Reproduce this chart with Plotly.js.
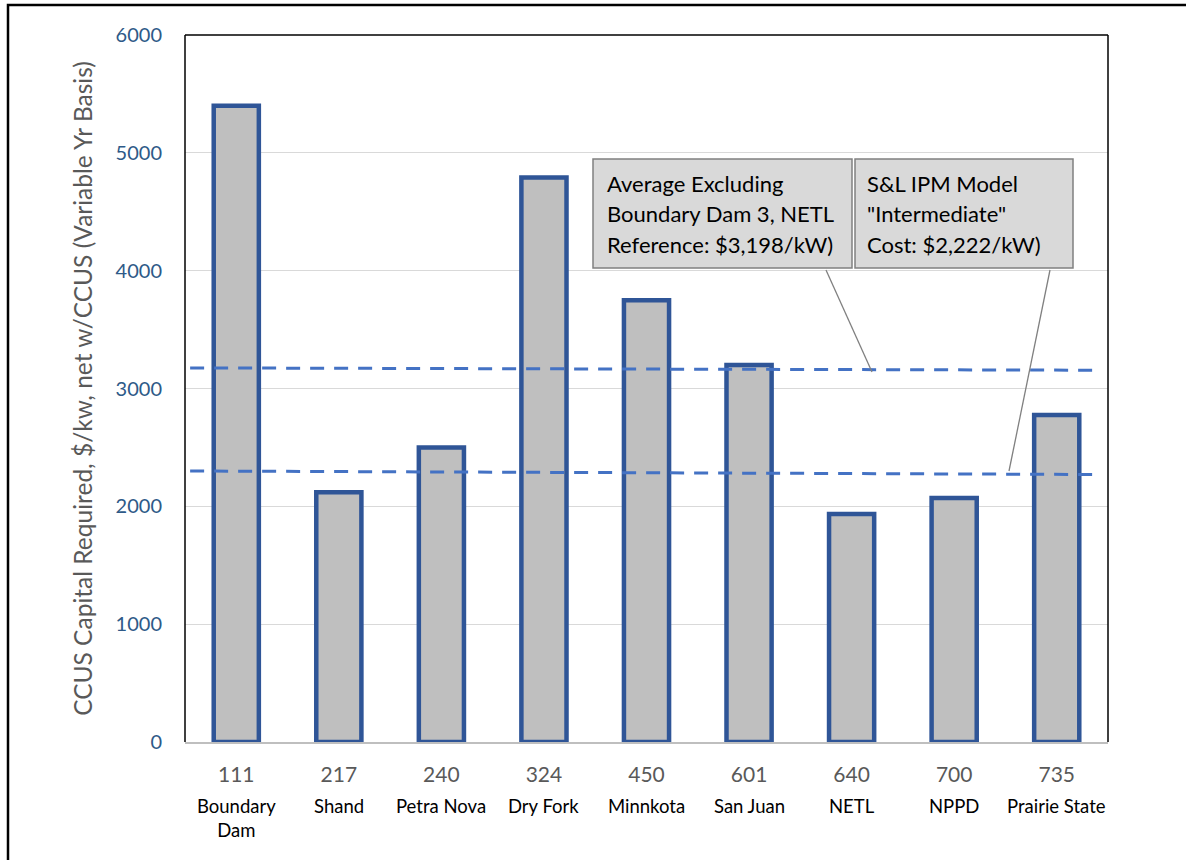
<!DOCTYPE html>
<html>
<head>
<meta charset="utf-8">
<script src="https://cdn.plot.ly/plotly-3.0.1.min.js"></script>
<style>html,body{margin:0;padding:0;background:#fff;}#chart{width:1186px;height:860px;}</style>
</head>
<body>
<div id="chart"></div>
<script>
// ---- data ----
var plantCodes = ["111", "217", "240", "324", "450", "601", "640", "700", "735"];
var plantNames = ["Boundary<br>Dam", "Shand", "Petra Nova", "Dry Fork", "Minnkota", "San Juan", "NETL", "NPPD", "Prairie State"];
var capitalCost = [5400, 2120, 2500, 4790, 3750, 3200, 1935, 2070, 2775];
var lineX = [-0.45, 8.42];
var avgLine = [3175, 3155];
var ipmLine = [2300, 2270];
var yTicks = [0, 1000, 2000, 3000, 4000, 5000, 6000];
var avgLabel = ["Average Excluding", "Boundary Dam 3, NETL", "Reference: $3,198/kW)"];
var ipmLabel = ["S&L IPM Model", "\"Intermediate\"", "Cost: $2,222/kW)"];

// ---- layout helpers (pixel -> paper) ----
var L = 185, R = 1108, T = 35, B = 742;
function PX(x) { return (x - L) / (R - L); }
function PY(y) { return (B - y) / (B - T); }

var idx = plantCodes.map(function (_, i) { return i; });
var FONT = "Lato, 'Open Sans', sans-serif";

var traces = [
  {
    type: "bar", x: idx, y: capitalCost, width: 0.44,
    marker: { color: "#bfbfbf", line: { color: "#2f5597", width: 4.5 } },
    hoverinfo: "y", showlegend: false
  },
  {
    type: "scatter", mode: "lines", x: lineX, y: avgLine,
    line: { color: "#4472c4", width: 3, dash: "14px,10px" }, showlegend: false
  },
  {
    type: "scatter", mode: "lines", x: lineX, y: ipmLine,
    line: { color: "#4472c4", width: 3, dash: "14px,10px" }, showlegend: false
  }
];

var annotations = [];
plantNames.forEach(function (n, i) {
  annotations.push({
    x: i, xref: "x", y: PY(793), yref: "paper", yanchor: "top", xanchor: "center",
    text: n, showarrow: false, font: { family: FONT, size: 18.5, color: "#000" }
  });
});
avgLabel.forEach(function (t, i) {
  annotations.push({
    x: PX(605), xref: "paper", xanchor: "left", y: PY(184 + 30 * i), yref: "paper", yanchor: "middle",
    text: t, showarrow: false, font: { family: FONT, size: 22, color: "#000" }
  });
});
ipmLabel.forEach(function (t, i) {
  annotations.push({
    x: PX(865), xref: "paper", xanchor: "left", y: PY(184 + 30 * i), yref: "paper", yanchor: "middle",
    text: t, showarrow: false, font: { family: FONT, size: 22, color: "#000" }
  });
});

var shapes = [
  // outer frame
  { type: "rect", xref: "paper", yref: "paper", x0: PX(8), x1: PX(1300), y0: PY(1000), y1: PY(5),
    line: { color: "#000", width: 2.5 }, layer: "below" },
  // plot border: left, top, right black
  { type: "line", xref: "paper", yref: "paper", x0: 0, x1: 0, y0: 0, y1: 1, line: { color: "#000", width: 1.5 } },
  { type: "line", xref: "paper", yref: "paper", x0: 0, x1: 1, y0: 1, y1: 1, line: { color: "#000", width: 1.5 } },
  { type: "line", xref: "paper", yref: "paper", x0: 1, x1: 1, y0: 0, y1: 1, line: { color: "#000", width: 1.5 } },
  // callout boxes
  { type: "rect", xref: "paper", yref: "paper", x0: PX(593), x1: PX(852), y0: PY(268), y1: PY(159),
    fillcolor: "#d9d9d9", line: { color: "#808080", width: 1.5 } },
  { type: "rect", xref: "paper", yref: "paper", x0: PX(855), x1: PX(1073), y0: PY(268), y1: PY(159),
    fillcolor: "#d9d9d9", line: { color: "#808080", width: 1.5 } },
  // leader lines
  { type: "line", xref: "paper", yref: "paper", x0: PX(826), x1: PX(872), y0: PY(270), y1: PY(372),
    line: { color: "#808080", width: 1.3 } },
  { type: "line", xref: "paper", yref: "paper", x0: PX(1050), x1: PX(1009), y0: PY(270), y1: PY(471),
    line: { color: "#808080", width: 1.3 } }
];

var layout = {
  width: 1186, height: 860,
  margin: { l: L, r: 1186 - R, t: T, b: 860 - B },
  paper_bgcolor: "#fff", plot_bgcolor: "#fff",
  font: { family: FONT },
  bargap: 0.5,
  xaxis: {
    range: [-0.5, 8.5], tickvals: idx, ticktext: plantCodes,
    tickfont: { family: FONT, size: 21, color: "#595959" },
    showgrid: false, zeroline: false, showline: true, linecolor: "#bfbfbf", linewidth: 1.5,
    ticks: "", ticklabelstandoff: 13, fixedrange: true
  },
  yaxis: {
    range: [0, 6000], tickvals: yTicks, ticktext: yTicks.map(String),
    tickfont: { family: FONT, size: 20, color: "#2e5a88" },
    showgrid: true, gridcolor: "#d9d9d9", gridwidth: 1.2, zeroline: false, showline: false,
    ticks: "", ticklabelstandoff: 22,
    title: { text: "CCUS Capital Required, $/kw, net w/CCUS (Variable Yr Basis)",
      font: { family: FONT, size: 24.5, color: "#595959" }, standoff: 16 },
    fixedrange: true
  },
  shapes: shapes,
  annotations: annotations,
  showlegend: false
};

Plotly.newPlot("chart", traces, layout, { displayModeBar: false, staticPlot: true });
</script>
</body>
</html>
